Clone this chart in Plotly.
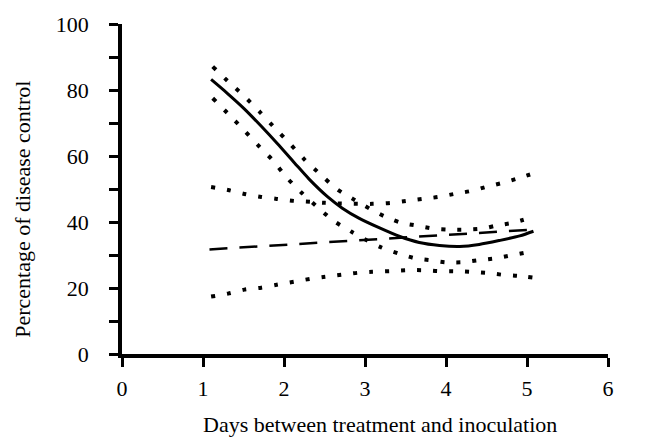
import plotly.graph_objects as go

# Fitted curve (solid)
solid_x = [1.1, 1.3, 1.51, 1.72, 1.92, 2.13, 2.31, 2.54, 2.72, 2.93, 3.18, 3.43, 3.67, 3.92, 4.17, 4.41, 4.66, 4.91, 5.08]
solid_y = [83.2, 79.0, 74.3, 69.0, 63.7, 57.9, 53.0, 47.6, 44.2, 41.1, 38.2, 35.6, 33.8, 32.9, 32.6, 33.2, 34.4, 35.8, 37.2]

# Upper confidence band of solid curve (dotted)
upper_a_x = [1.12, 1.31, 1.51, 1.70, 1.87, 2.07, 2.25, 2.46, 2.65, 2.85, 3.06, 3.25, 3.44, 3.64, 3.85, 4.03, 4.24, 4.45, 4.62, 4.83, 5.04]
upper_a_y = [87.1, 82.6, 78.1, 73.4, 68.9, 63.8, 59.0, 54.2, 50.0, 47.0, 44.0, 41.6, 39.8, 38.9, 38.0, 37.7, 37.7, 38.0, 38.9, 39.8, 41.3]

# Lower confidence band of solid curve (dotted)
lower_b_x = [1.12, 1.31, 1.50, 1.67, 1.86, 2.04, 2.22, 2.41, 2.61, 2.83, 3.02, 3.2, 3.41, 3.62, 3.81, 4.0, 4.2, 4.4, 4.61, 4.81, 5.0, 5.08]
lower_b_y = [77.5, 72.8, 68.0, 63.5, 58.7, 53.3, 48.8, 44.6, 40.4, 37.1, 34.5, 32.3, 30.5, 29.0, 28.4, 27.8, 27.8, 28.4, 29.0, 29.9, 30.8, 31.3]

# Linear fit (dashed)
dash_x = [1.08, 5.08]
dash_y = [31.7, 37.7]

# Upper band of linear fit (dotted)
upper_c_x = [1.1, 1.31, 1.51, 1.72, 1.91, 2.12, 2.33, 2.51, 2.71, 2.91, 3.09, 3.32, 3.51, 3.71, 3.91, 4.1, 4.31, 4.49, 4.69, 4.9, 5.09]
upper_c_y = [50.6, 49.7, 48.5, 47.6, 47.0, 46.4, 46.1, 45.8, 45.6, 45.5, 45.5, 45.8, 46.4, 47.0, 47.6, 48.5, 49.4, 50.6, 51.8, 53.3, 54.8]

# Lower band of linear fit (dotted)
lower_d_x = [1.1, 1.31, 1.51, 1.72, 1.91, 2.12, 2.33, 2.51, 2.71, 2.91, 3.09, 3.31, 3.51, 3.71, 3.91, 4.1, 4.3, 4.5, 4.7, 4.89, 5.09]
lower_d_y = [17.4, 18.3, 19.5, 20.1, 21.0, 21.9, 22.8, 23.4, 24.0, 24.6, 24.9, 25.1, 25.4, 25.4, 25.1, 25.1, 24.9, 24.6, 24.0, 23.7, 23.1]

x_ticks = [0, 1, 2, 3, 4, 5, 6]
y_ticks = [0, 10, 20, 30, 40, 50, 60, 70, 80, 90, 100]
y_ticktext = ["0", "", "20", "", "40", "", "60", "", "80", "", "100"]
x_title = "Days between treatment and inoculation"
y_title = "Percentage of disease control"

FONT = "Liberation Serif, Times New Roman, serif"
DOT = "4px,12px"

fig = go.Figure()
for xs, ys in [(upper_a_x, upper_a_y), (lower_b_x, lower_b_y), (upper_c_x, upper_c_y), (lower_d_x, lower_d_y)]:
    fig.add_trace(go.Scatter(x=xs, y=ys, mode="lines", line=dict(color="black", width=4, dash=DOT, shape="spline", smoothing=0.8), showlegend=False, hoverinfo="skip"))
fig.add_trace(go.Scatter(x=dash_x, y=dash_y, mode="lines", line=dict(color="black", width=2.5, dash="18px,12px"), showlegend=False, hoverinfo="skip"))
fig.add_trace(go.Scatter(x=solid_x, y=solid_y, mode="lines", line=dict(color="black", width=3, shape="spline", smoothing=0.8), showlegend=False, hoverinfo="skip"))

fig.update_layout(
    width=661, height=437,
    margin=dict(l=122, r=53, t=19, b=83),
    paper_bgcolor="white", plot_bgcolor="white",
    font=dict(family=FONT, size=22, color="black"),
    xaxis=dict(
        range=[0, 6], tickvals=x_ticks, ticktext=[str(v) for v in x_ticks],
        showgrid=False, zeroline=False, showline=True, linewidth=3.5, linecolor="black",
        ticks="outside", ticklen=9, tickwidth=2.5, tickcolor="black",
        ticklabelstandoff=3,
    ),
    yaxis=dict(
        range=[0, 100], tickvals=y_ticks, ticktext=y_ticktext,
        showgrid=False, zeroline=False, showline=True, linewidth=3.5, linecolor="black",
        ticks="outside", ticklen=9, tickwidth=2.5, tickcolor="black",
        ticklabelstandoff=16,
    ),
    annotations=[
        dict(text=x_title, xref="paper", yref="paper", x=0.531, y=-0.2126,
             xanchor="center", yanchor="middle", showarrow=False, font=dict(family=FONT, size=22)),
        dict(text=y_title, xref="paper", yref="paper", x=-0.2037, y=0.437, textangle=-90,
             xanchor="center", yanchor="middle", showarrow=False, font=dict(family=FONT, size=22)),
    ],
)

fig.write_html("out.html")
